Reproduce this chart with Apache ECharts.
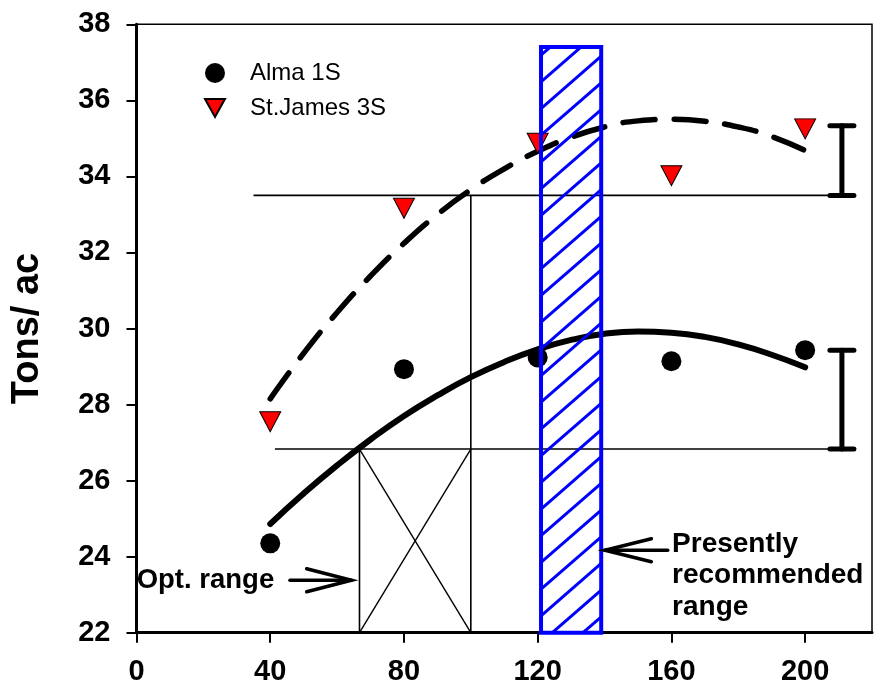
<!DOCTYPE html>
<html><head><meta charset="utf-8">
<script src="https://cdn.jsdelivr.net/npm/echarts@6/dist/echarts.min.js"></script>
<style>html,body{margin:0;padding:0;background:#fff}#c{width:874px;height:696px}</style>
</head><body><div id="c"></div>
<script>
// ---- data ----
const xTicks = [0, 40, 80, 120, 160, 200];
const yTicks = [22, 24, 26, 28, 30, 32, 34, 36, 38];
const rates = [40, 80, 120, 160, 200];
const alma = [24.35, 28.93, 29.24, 29.14, 29.43];
const stJames = [27.55, 33.16, 34.87, 34.02, 35.25];
const curveX = [40, 50, 60, 70, 80, 90, 100, 110, 120, 130, 140, 150, 160, 170, 180, 190, 200];
const almaFit = [24.86, 25.66, 26.40, 27.08, 27.70, 28.24, 28.72, 29.12, 29.45, 29.70, 29.86, 29.92, 29.89, 29.78, 29.58, 29.31, 28.98];
const stJamesFit = [28.15, 29.35, 30.42, 31.38, 32.24, 33.0, 33.65, 34.2, 34.66, 35.03, 35.3, 35.46, 35.5, 35.45, 35.3, 35.05, 34.68];
const lsdX = [211, 211];
const lsdLow = [33.5, 26.83];
const lsdHigh = [35.33, 29.43];
const guideUpper = [[35, 33.5], [211, 33.5]];
const guideLower = [[41.4, 26.83], [211, 26.83]];
const optRange = [66.7, 100];
const optTop = 26.83;
const upperCross = 33.5;
const recRange = [121, 139];
const recTop = 37.4;
const seriesNames = ['Alma 1S', 'St.James 3S'];

const FONT = '"Liberation Sans", Arial, sans-serif';
const chart = echarts.init(document.getElementById('c'), null, {renderer: 'canvas'});

function thinLine(name, pts, width) {
  return {
    type: 'line', name: name, data: pts, symbol: 'none', silent: true, z: 3,
    lineStyle: {color: '#000', width: width || 1.6}, animation: false
  };
}

const option = {
  animation: false,
  backgroundColor: '#fff',
  grid: {left: 136.5, right: 2, top: 24.3, bottom: 63.3, show: true, borderColor: '#000', borderWidth: 1.5, backgroundColor: 'transparent'},
  legend: {
    data: [{name: seriesNames[0], icon: 'circle'}, {name: seriesNames[1], icon: 'path://M0,0L21,0L10.5,19Z'}],
    orient: 'vertical', left: 199, top: 56,
    itemWidth: 20, itemHeight: 20, itemGap: 11,
    textStyle: {fontFamily: FONT, fontSize: 24, color: '#000', padding: [0, 0, 0, 20]},
    selectedMode: false
  },
  xAxis: {
    type: 'value', min: 0, max: 220, interval: 40,
    axisLine: {onZero: false, lineStyle: {color: '#000', width: 3}},
    axisTick: {inside: false, length: 10, lineStyle: {color: '#000', width: 2}},
    axisLabel: {margin: 25, showMaxLabel: false, fontFamily: FONT, fontWeight: 'bold', fontSize: 29, color: '#000',
      formatter: v => (xTicks.indexOf(v) >= 0 ? String(v) : '')},
    splitLine: {show: false}
  },
  yAxis: {
    type: 'value', min: 22, max: 38, interval: 2,
    name: 'Tons/ ac', nameLocation: 'middle', nameGap: 90,
    nameTextStyle: {fontFamily: FONT, fontWeight: 'bold', fontSize: 38, color: '#000'},
    axisLine: {onZero: false, lineStyle: {color: '#000', width: 3}},
    axisTick: {inside: false, length: 10, lineStyle: {color: '#000', width: 2}},
    axisLabel: {margin: 26, fontFamily: FONT, fontWeight: 'bold', fontSize: 29, color: '#000',
      formatter: v => (yTicks.indexOf(v) >= 0 ? String(v) : '')},
    splitLine: {show: false}
  },
  series: [
    thinLine('g1', guideUpper),
    thinLine('g2', guideLower),
    thinLine('g3', [[optRange[1], 22], [optRange[1], upperCross]]),
    thinLine('g4', [[optRange[0], 22], [optRange[0], optTop]]),
    thinLine('g5', [[optRange[0], optTop], [optRange[1], 22]], 1.4),
    thinLine('g6', [[optRange[0], 22], [optRange[1], optTop]], 1.4),
    {
      type: 'line', name: 'almaFit', smooth: true, symbol: 'none', silent: true, z: 4,
      data: curveX.map((x, i) => [x, almaFit[i]]),
      lineStyle: {color: '#000', width: 6, cap: 'round'}
    },
    {
      type: 'line', name: 'stJamesFit', smooth: true, symbol: 'none', silent: true, z: 4,
      data: curveX.map((x, i) => [x, stJamesFit[i]]),
      lineStyle: {color: '#000', width: 5.5, cap: 'round', type: [32, 19]}
    },
    {
      type: 'scatter', name: seriesNames[0], symbol: 'circle', symbolSize: 20, z: 5,
      data: rates.map((x, i) => [x, alma[i]]),
      itemStyle: {color: '#000', opacity: 1}
    },
    {
      type: 'scatter', name: seriesNames[1], symbol: 'triangle', symbolRotate: 180, symbolSize: [21, 20], z: 5,
      data: rates.map((x, i) => [x, stJames[i]]),
      itemStyle: {color: '#ff0000', borderColor: '#000', borderWidth: 1, opacity: 1}
    },
    {
      type: 'custom', name: 'lsd', silent: true, z: 6, clip: false,
      data: lsdX.map((x, i) => [x, lsdLow[i], lsdHigh[i]]),
      renderItem: (params, api) => {
        const lo = api.coord([api.value(0), api.value(1)]);
        const hi = api.coord([api.value(0), api.value(2)]);
        const s = {stroke: '#000', lineWidth: 5, lineCap: 'round'};
        const hw = 12;
        return {type: 'group', children: [
          {type: 'line', shape: {x1: lo[0], y1: lo[1], x2: hi[0], y2: hi[1]}, style: s},
          {type: 'line', shape: {x1: lo[0] - hw, y1: lo[1], x2: lo[0] + hw, y2: lo[1]}, style: s},
          {type: 'line', shape: {x1: hi[0] - hw, y1: hi[1], x2: hi[0] + hw, y2: hi[1]}, style: s}
        ]};
      }
    },
    {
      type: 'custom', name: 'recommended', silent: true, z: 7, clip: false,
      data: [[recRange[0], recRange[1], recTop]],
      renderItem: (params, api) => {
        const p0 = api.coord([api.value(0), api.value(2)]);
        const p1 = api.coord([api.value(1), 22]);
        const x0 = p0[0], y0 = p0[1], x1 = p1[0], y1 = p1[1];
        const t = 0.87, step = 26.7;
        const children = [];
        for (let c = y0 + 8; c <= y1 + t * (x1 - x0) + step; c += step) {
          let xa = x0 + (c - y1) / t, xb = x0 + (c - y0) / t;
          xa = Math.max(xa, x0); xb = Math.min(xb, x1);
          if (xb <= xa) continue;
          children.push({type: 'line', shape: {x1: xa, y1: c - t * (xa - x0), x2: xb, y2: c - t * (xb - x0)},
            style: {stroke: '#0000ff', lineWidth: 3}});
        }
        children.push({type: 'rect', shape: {x: x0, y: y0, width: x1 - x0, height: y1 - y0},
          style: {fill: null, stroke: '#0000ff', lineWidth: 4}});
        return {type: 'group', children: children};
      }
    },
    {
      type: 'custom', name: 'notes', silent: true, z: 8, clip: false,
      data: [[0, 22]],
      renderItem: (params, api) => {
        const a1tail = api.coord([45.9, 23.38]), a1tip = api.coord([64.3, 23.38]), a1b = api.coord([50.9, 23.38]);
        const a2tail = api.coord([158.9, 24.17]), a2tip = api.coord([140.1, 24.17]), a2b = api.coord([154, 24.17]);
        const t1 = api.coord([0.05, 23.37]);
        const t2 = api.coord([160.2, 24.75]);
        const s = {stroke: '#000', lineWidth: 3.5, lineCap: 'round', fill: null};
        return {type: 'group', children: [
          {type: 'line', shape: {x1: a1tail[0], y1: a1tail[1], x2: a1tip[0], y2: a1tip[1]}, style: s},
          {type: 'polyline', shape: {points: [[a1b[0], a1b[1] - 11.5], [a1tip[0], a1tip[1]], [a1b[0], a1b[1] + 11.5]]}, style: s},
          {type: 'line', shape: {x1: a2tail[0], y1: a2tail[1], x2: a2tip[0], y2: a2tip[1]}, style: s},
          {type: 'polyline', shape: {points: [[a2b[0], a2b[1] - 11.5], [a2tip[0], a2tip[1]], [a2b[0], a2b[1] + 11.5]]}, style: s},
          {type: 'text', x: t1[0], y: t1[1], style: {text: 'Opt. range', font: 'bold 27.5px ' + FONT, fill: '#000', align: 'left', verticalAlign: 'middle'}},
          {type: 'text', x: t2[0], y: t2[1], style: {text: 'Presently\nrecommended\nrange', font: 'bold 28px ' + FONT, lineHeight: 31.5, fill: '#000', align: 'left', verticalAlign: 'top'}}
        ]};
      }
    }
  ]
};
chart.setOption(option);
</script>
</body></html>
